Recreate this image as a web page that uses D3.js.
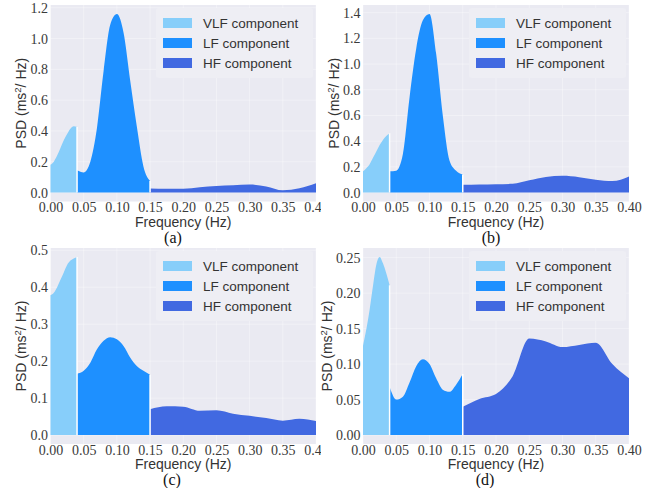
<!DOCTYPE html>
<html>
<head>
<meta charset="utf-8">
<script src="https://cdn.jsdelivr.net/npm/d3@7"></script>
<style>
  body { margin: 0; background: #fff; }
</style>
</head>
<body>
<svg width="662" height="488"></svg>
<script>
// band names and colours
const bands = ["VLF component", "LF component", "HF component"];
const bandColors = ["#87cefa", "#1e90ff", "#4169e1"];
const captions = ["(a)", "(b)", "(c)", "(d)"];

// frequency samples of each band (Hz)
const vlfFreq = [0, 0.005, 0.01, 0.015, 0.02, 0.025, 0.03, 0.035, 0.04];
const lfFreq = [0.04, 0.05, 0.06, 0.07, 0.08, 0.09, 0.1, 0.11, 0.12, 0.13, 0.14, 0.15];
const hfFreq = [0.15, 0.175, 0.2, 0.225, 0.25, 0.275, 0.3, 0.325, 0.35, 0.375, 0.4];

// PSD values, (a) to (d)
const vlfPsd = [
  [0.18, 0.2, 0.24, 0.29, 0.34, 0.38, 0.415, 0.43, 0.425],
  [0.165, 0.19, 0.22, 0.27, 0.32, 0.37, 0.41, 0.44, 0.462],
  [0.378, 0.385, 0.4, 0.42, 0.44, 0.46, 0.472, 0.478, 0.482],
  [0.126, 0.149, 0.177, 0.21, 0.24, 0.251, 0.242, 0.228, 0.211]
];
const lfPsd = [
  [0.145, 0.13, 0.2, 0.42, 0.79, 1.09, 1.16, 1.04, 0.73, 0.43, 0.17, 0.075],
  [0.165, 0.17, 0.3, 0.74, 1.12, 1.34, 1.39, 1.08, 0.6, 0.25, 0.17, 0.14],
  [0.166, 0.174, 0.196, 0.232, 0.255, 0.265, 0.259, 0.241, 0.21, 0.187, 0.174, 0.163],
  [0.068, 0.05, 0.054, 0.074, 0.097, 0.107, 0.1, 0.08, 0.064, 0.061, 0.071, 0.086]
];
const hfPsd = [
  [0.027, 0.025, 0.025, 0.035, 0.043, 0.047, 0.052, 0.04, 0.015, 0.028, 0.06],
  [0.06, 0.063, 0.065, 0.068, 0.095, 0.122, 0.13, 0.12, 0.1, 0.09, 0.126],
  [0.07, 0.078, 0.077, 0.066, 0.067, 0.058, 0.052, 0.046, 0.039, 0.044, 0.038],
  [0.04, 0.051, 0.058, 0.083, 0.136, 0.132, 0.124, 0.127, 0.13, 0.1, 0.08]
];

const xTicks = [0, 0.05, 0.1, 0.15, 0.2, 0.25, 0.3, 0.35, 0.4];
const yTicks = [
  [0, 0.2, 0.4, 0.6, 0.8, 1.0, 1.2],
  [0, 0.2, 0.4, 0.6, 0.8, 1.0, 1.2, 1.4],
  [0, 0.1, 0.2, 0.3, 0.4, 0.5],
  [0, 0.05, 0.1, 0.15, 0.2, 0.25]
];
const yFormats = [".1f", ".1f", ".1f", ".2f"];

// panel boxes
const layout = [
  { x0: 50.5, x1: 316, y0: 5, y1: 201.5, cx: 173, cy: 243, clip: 321 },
  { x0: 363, x1: 629, y0: 5, y1: 201.5, cx: 491, cy: 243, clip: 662 },
  { x0: 50.5, x1: 316, y0: 248, y1: 444, cx: 172, cy: 485, clip: 321 },
  { x0: 363, x1: 629, y0: 248, y1: 444, cx: 485, cy: 485, clip: 662 }
];

const serif = "'Liberation Serif', 'Times New Roman', serif";
const sans = "'Liberation Sans', Arial, sans-serif";

const svg = d3.select("svg");

layout.forEach((L, i) => {
  const bandData = [
    vlfFreq.map((f, k) => [f, vlfPsd[i][k]]),
    lfFreq.map((f, k) => [f, lfPsd[i][k]]),
    hfFreq.map((f, k) => [f, hfPsd[i][k]])
  ];
  const ymax = d3.max(bandData.flat(), d => d[1]);

  const x = d3.scaleLinear().domain([0, 0.4]).range([L.x0, L.x1]);
  const y = d3.scaleLinear().domain([-0.05 * ymax, 1.05 * ymax]).range([L.y1, L.y0]);

  svg.append("clipPath").attr("id", "clip" + i)
    .append("rect").attr("x", 0).attr("y", 0).attr("width", L.clip).attr("height", 488);

  const g = svg.append("g").attr("clip-path", `url(#clip${i})`);

  g.append("rect")
    .attr("x", L.x0).attr("y", L.y0)
    .attr("width", L.x1 - L.x0).attr("height", L.y1 - L.y0)
    .attr("fill", "#eaeaf2");

  // faint grid
  g.append("g").selectAll("line").data(xTicks).join("line")
    .attr("x1", d => x(d)).attr("x2", d => x(d))
    .attr("y1", L.y0).attr("y2", L.y1)
    .attr("stroke", "#fff").attr("stroke-opacity", 0.35);
  g.append("g").selectAll("line").data(yTicks[i]).join("line")
    .attr("x1", L.x0).attr("x2", L.x1)
    .attr("y1", d => y(d)).attr("y2", d => y(d))
    .attr("stroke", "#fff").attr("stroke-opacity", 0.35);

  const area = d3.area()
    .x(d => x(d[0]))
    .y0(y(0))
    .y1(d => y(d[1]))
    .curve(d3.curveMonotoneX);

  g.append("g").selectAll("path").data(bandData).join("path")
    .attr("d", area)
    .attr("fill", (d, j) => bandColors[j]);

  // white separators between the bands
  [0, 1].forEach(j => {
    const f = bandData[j][bandData[j].length - 1][0];
    const top = Math.max(bandData[j][bandData[j].length - 1][1], bandData[j + 1][0][1]);
    g.append("line")
      .attr("x1", x(f)).attr("x2", x(f))
      .attr("y1", y(0)).attr("y2", y(top))
      .attr("stroke", "#fff").attr("stroke-width", 1.5);
  });

  // legend
  const lg = g.append("g");
  lg.append("rect")
    .attr("x", L.x1 - 160).attr("y", L.y0 + 3)
    .attr("width", 157).attr("height", 70).attr("rx", 3)
    .attr("fill", "#eeeef4");
  bands.forEach((b, j) => {
    lg.append("rect")
      .attr("x", L.x1 - 153).attr("y", L.y0 + 13 + 20 * j)
      .attr("width", 29).attr("height", 10)
      .attr("fill", bandColors[j]);
    lg.append("text")
      .attr("x", L.x1 - 113).attr("y", L.y0 + 18 + 20 * j)
      .attr("dy", "0.35em")
      .attr("font-family", sans).attr("font-size", 13.5)
      .attr("fill", "#333")
      .text(b);
  });

  // axes
  const xAxis = g.append("g")
    .attr("transform", `translate(0,${L.y1})`)
    .call(d3.axisBottom(x).tickValues(xTicks).tickFormat(d3.format(".2f")).tickSize(0).tickPadding(1));
  const yAxis = g.append("g")
    .attr("transform", `translate(${L.x0},0)`)
    .call(d3.axisLeft(y).tickValues(yTicks[i]).tickFormat(d3.format(yFormats[i])).tickSize(0).tickPadding(2.5));
  [xAxis, yAxis].forEach(a => {
    a.select(".domain").remove();
    a.selectAll("text")
      .attr("font-family", serif).attr("font-size", 14)
      .attr("fill", "#3a3a3a");
  });

  g.append("text")
    .attr("x", (L.x0 + L.x1) / 2).attr("y", L.y1 + 25)
    .attr("text-anchor", "middle")
    .attr("font-family", sans).attr("font-size", 14).attr("fill", "#333")
    .text("Frequency (Hz)");

  const labelW = yAxis.node().getBBox().width;
  const yl = g.append("text")
    .attr("transform", `translate(${L.x0 - 2.5 - labelW - 2},${(L.y0 + L.y1) / 2}) rotate(-90)`)
    .attr("text-anchor", "middle")
    .attr("font-family", sans).attr("font-size", 14).attr("fill", "#333");
  yl.append("tspan").text("PSD (ms");
  yl.append("tspan").attr("dy", -5).attr("font-size", 9.5).text("2");
  yl.append("tspan").attr("dy", 5).text("/ Hz)");

  svg.append("text")
    .attr("x", L.cx).attr("y", L.cy)
    .attr("text-anchor", "middle")
    .attr("font-family", serif).attr("font-size", 16).attr("fill", "#111")
    .text(captions[i]);
});
</script>
</body>
</html>
